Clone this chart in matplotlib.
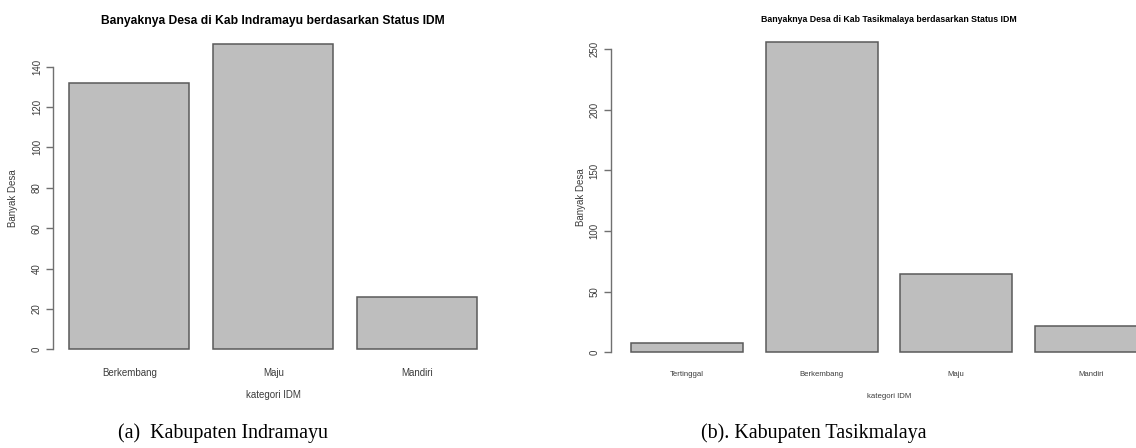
import matplotlib
matplotlib.use("Agg")
import matplotlib.pyplot as plt
from matplotlib.ticker import FixedLocator

# -------------------------------
# Data
# -------------------------------
indramayu_cats = ["Berkembang", "Maju", "Mandiri"]
indramayu_vals = [132, 151, 26]
indramayu_ticks = [0, 20, 40, 60, 80, 100, 120, 140]

tasik_cats = ["Tertinggal", "Berkembang", "Maju", "Mandiri"]
tasik_vals = [8, 256, 65, 22]
tasik_ticks = [0, 50, 100, 150, 200, 250]

W, H = 1136, 448
BAR_FILL = "#bebebe"
BAR_EDGE = "#5a5a5a"
TXT = "#3c3c3c"


def r_barplot(ax, cats, vals, ticks, xlab_size):
    """Mimic R's barplot(): width 1, space 0.2, 4% axis padding."""
    n = len(cats)
    lefts = [0.2 + i * 1.2 for i in range(n)]
    ax.bar(lefts, vals, width=1.0, align="edge", color=BAR_FILL,
           edgecolor=BAR_EDGE, linewidth=1.1)

    x0, x1 = lefts[0], lefts[-1] + 1.0
    pad = 0.04 * (x1 - x0)
    ax.set_xlim(x0 - pad, x1 + pad)
    top = max(vals)
    ax.set_ylim(-0.04 * top, 1.04 * top)

    for s in ["top", "right", "bottom"]:
        ax.spines[s].set_visible(False)
    ax.spines["left"].set_bounds(ticks[0], ticks[-1])
    ax.spines["left"].set_color("#707070")
    ax.spines["left"].set_linewidth(1.0)

    ax.yaxis.set_major_locator(FixedLocator(ticks))
    ax.set_yticklabels([str(t) for t in ticks], rotation=90, va="center")
    ax.tick_params(axis="y", length=5, width=1.0, color="#707070",
                   labelsize=7, labelcolor=TXT, pad=3)

    ax.set_xticks([l + 0.5 for l in lefts])
    ax.set_xticklabels(cats)
    ax.tick_params(axis="x", length=0, labelsize=xlab_size,
                   labelcolor=TXT, pad=4.5)


def main():
    plt.rcParams["font.family"] = ["Liberation Sans", "DejaVu Sans"]

    fig = plt.figure(figsize=(W / 100, H / 100), dpi=100)
    fig.patch.set_facecolor("white")

    # (a) Indramayu
    ax1 = fig.add_axes([53 / W, 1 - 361.5 / H, 440.6 / W, 329.3 / H])
    r_barplot(ax1, indramayu_cats, indramayu_vals, indramayu_ticks, 7)
    fig.text(273 / W, 1 - 21 / H,
             "Banyaknya Desa di Kab Indramayu berdasarkan Status IDM",
             ha="center", va="center", fontsize=8.7, fontweight="bold",
             color="black")
    fig.text(273 / W, 1 - 395 / H, "kategori IDM", ha="center",
             va="center", fontsize=7, color=TXT)
    fig.text(13 / W, 1 - 198 / H, "Banyak Desa", ha="center", va="center",
             rotation=90, fontsize=7, color=TXT)

    # (b) Tasikmalaya (cut off on the right like the original)
    ax2 = fig.add_axes([610.5 / W, 1 - 364.7 / H, 556.9 / W, 335.1 / H])
    r_barplot(ax2, tasik_cats, tasik_vals, tasik_ticks, 5.6)
    fig.text(889 / W, 1 - 20 / H,
             "Banyaknya Desa di Kab Tasikmalaya berdasarkan Status IDM",
             ha="center", va="center", fontsize=6.3, fontweight="bold",
             color="black")
    fig.text(889 / W, 1 - 396 / H, "kategori IDM", ha="center",
             va="center", fontsize=5.6, color=TXT)
    fig.text(581 / W, 1 - 197 / H, "Banyak Desa", ha="center", va="center",
             rotation=90, fontsize=7, color=TXT)

    # captions under each panel
    fig.text(118 / W, 1 - 438 / H, "(a)  Kabupaten Indramayu", ha="left",
             va="baseline", fontsize=14.4, family="Liberation Serif",
             color="black")
    fig.text(700.7 / W, 1 - 438 / H, "(b). Kabupaten Tasikmalaya",
             ha="left", va="baseline", fontsize=14.4,
             family="Liberation Serif", color="black")

    fig.savefig("out.png", dpi=100, facecolor="white")


if __name__ == "__main__":
    main()
